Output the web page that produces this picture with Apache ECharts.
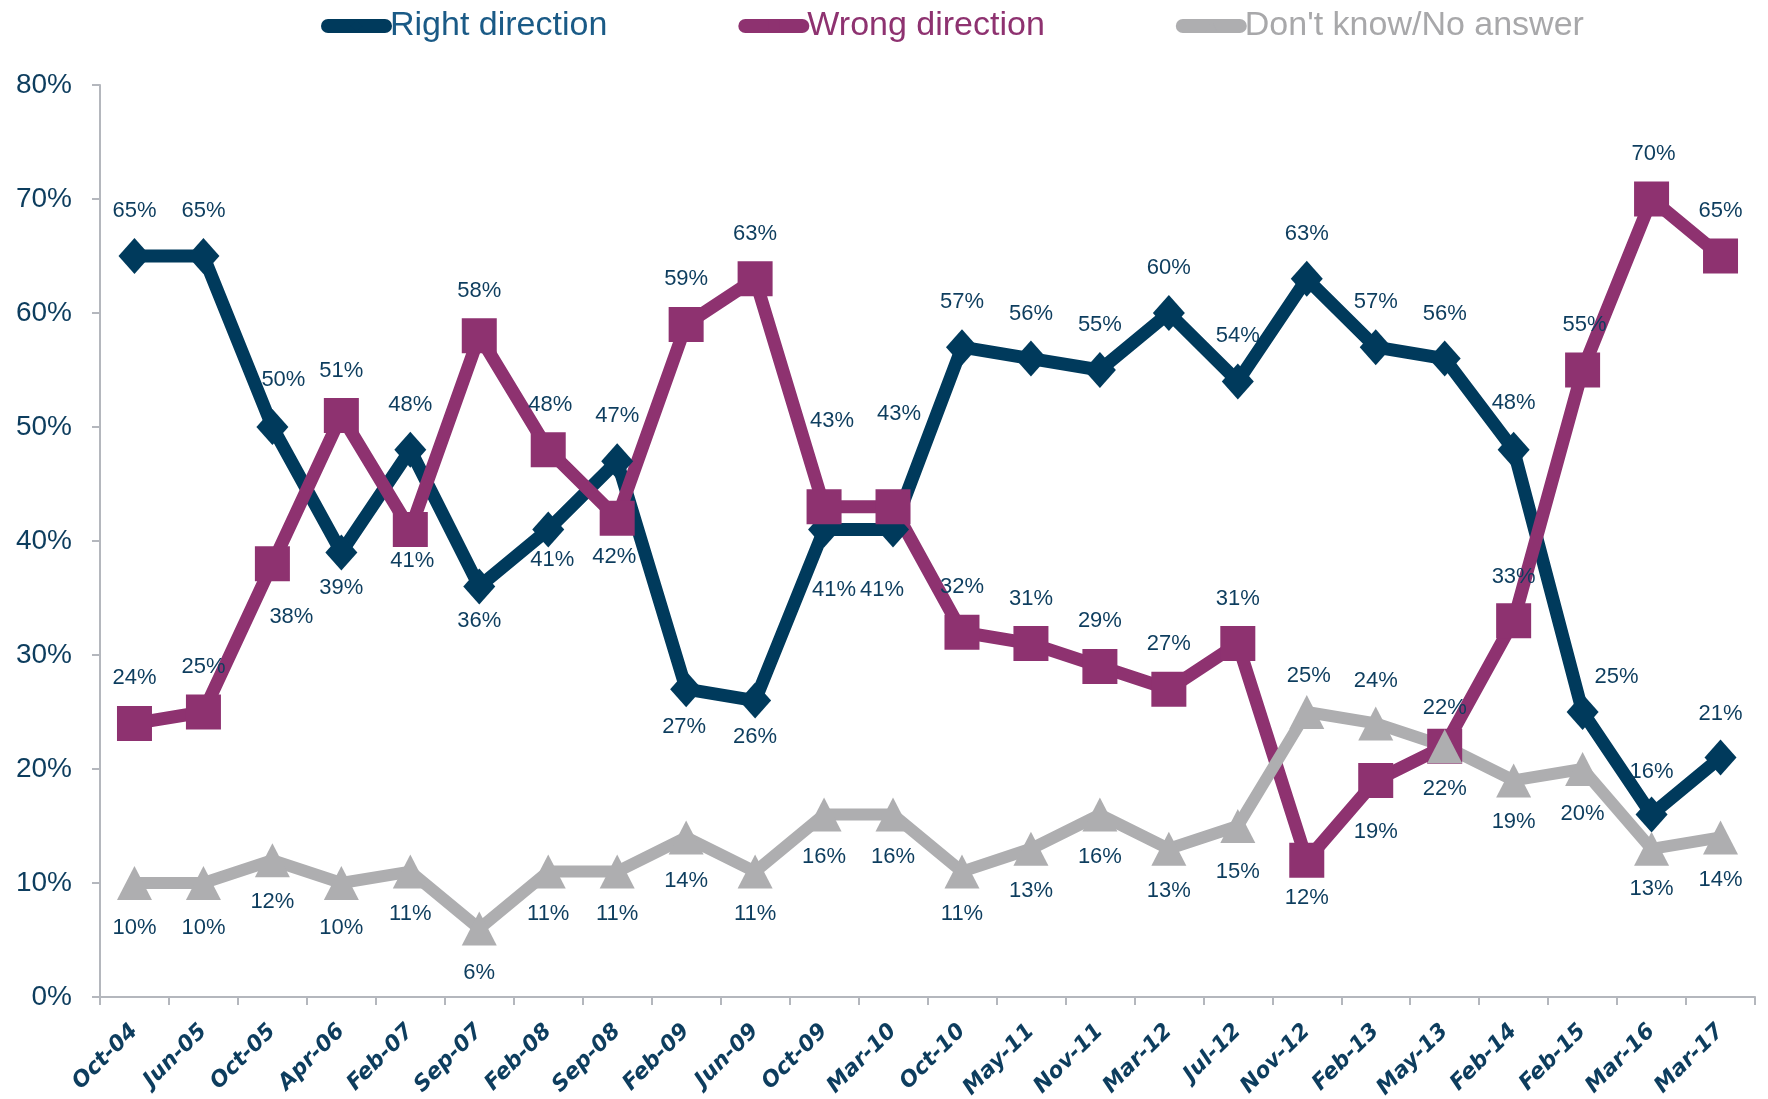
<!DOCTYPE html>
<html>
<head>
<meta charset="utf-8">
<script src="https://cdn.jsdelivr.net/npm/echarts@6/dist/echarts.min.js"></script>
<style>
html,body{margin:0;padding:0;background:#fff;}
#chart{width:1768px;height:1099px;}
</style>
</head>
<body>
<div id="chart"></div>
<script>
const categories = ['Oct-04','Jun-05','Oct-05','Apr-06','Feb-07','Sep-07','Feb-08','Sep-08','Feb-09','Jun-09','Oct-09','Mar-10','Oct-10','May-11','Nov-11','Mar-12','Jul-12','Nov-12','Feb-13','May-13','Feb-14','Feb-15','Mar-16','Mar-17'];
const rightDirection = [65,65,50,39,48,36,41,47,27,26,41,41,57,56,55,60,54,63,57,56,48,25,16,21];
const wrongDirection = [24,25,38,51,41,58,48,42,59,63,43,43,32,31,29,27,31,12,19,22,33,55,70,65];
const dontKnow = [10,10,12,10,11,6,11,11,14,11,16,16,11,13,16,13,15,25,24,22,19,20,13,14];

// label placement (style only): [dx, dy] from point centre
const T = [0,-45], B = [0,40];
const rightLabelOffsets = [T,T,[11,-47],[0,36],T,[0,34],[4,30],T,[-2,38],[0,36],[10,60],[-11,60],T,T,T,T,T,T,T,T,[0,-47],[34,-35],[0,-43],[0,-44]];
const wrongLabelOffsets = [T,T,[19,53],T,[2,31],T,[2,-45],[-3,39],T,T,[8,-86],[6,-93],T,T,T,T,T,[0,38],[0,52],[0,-38],[0,-44],[2,-45],[2,-45],T];
const dkLabelOffsets = [[0,45],[0,45],[0,42],[0,45],[0,42],[0,44],[0,42],[0,42],[0,44],[0,42],[0,42],[0,42],[0,42],[0,42],[0,42],[0,42],[0,46],[2,-36],[0,-42],[0,43],[0,42],[0,45],[0,40],[0,43]];

const labelColor = '#0d3d5e';
function build(values, offsets){
  return values.map((v,i)=>({value:v, label:{offset:offsets[i]}}));
}
const baseLabel = {show:true, position:'inside', formatter:'{c}%', color:labelColor, fontSize:22, fontFamily:'Liberation Sans'};

const chart = echarts.init(document.getElementById('chart'));
chart.setOption({
  animation:false,
  backgroundColor:'#fff',
  legend:{
    left:316, top:4, itemGap:131, itemWidth:57, itemHeight:14,
    textStyle:{fontSize:34, fontFamily:'Liberation Sans'},
    lineStyle:{width:14, cap:'round'},
    data:[
      {name:'Right direction', textStyle:{color:'#1a5a86'}},
      {name:'Wrong direction', textStyle:{color:'#8e3270'}},
      {name:"Don't know/No answer", textStyle:{color:'#a8a8aa'}}
    ]
  },
  grid:{left:100, right:13, top:85, bottom:102, containLabel:false, outerBoundsMode:'none'},
  xAxis:{
    type:'category', data:categories, boundaryGap:true,
    axisLine:{lineStyle:{color:'#b4b7bd', width:2}},
    axisTick:{show:true, length:8, lineStyle:{color:'#b4b7bd', width:2}},
    axisLabel:{rotate:45, margin:31, color:labelColor, fontSize:22, fontWeight:'bold', fontStyle:'italic', fontFamily:'DejaVu Sans', interval:0}
  },
  yAxis:{
    type:'value', min:0, max:80, interval:10,
    splitLine:{show:false},
    axisLine:{show:true, lineStyle:{color:'#b4b7bd', width:2}},
    axisTick:{show:true, length:8, lineStyle:{color:'#b4b7bd', width:2}},
    axisLabel:{formatter:'{value}%', margin:28, color:labelColor, fontSize:28, fontFamily:'Liberation Sans'}
  },
  series:[
    {
      name:'Right direction', type:'line', data:build(rightDirection, rightLabelOffsets),
      symbol:'diamond', symbolSize:[32,36],
      lineStyle:{width:13, color:'#003a5c'}, itemStyle:{color:'#003a5c'},
      label:baseLabel
    },
    {
      name:'Wrong direction', type:'line', data:build(wrongDirection, wrongLabelOffsets),
      symbol:'rect', symbolSize:35,
      lineStyle:{width:13, color:'#8e3270'}, itemStyle:{color:'#8e3270'},
      label:baseLabel
    },
    {
      name:"Don't know/No answer", type:'line', data:build(dontKnow, dkLabelOffsets),
      symbol:'triangle', symbolSize:[35,34],
      lineStyle:{width:12, color:'#aeaeb0'}, itemStyle:{color:'#aeaeb0'},
      label:baseLabel
    }
  ]
});
</script>
</body>
</html>
